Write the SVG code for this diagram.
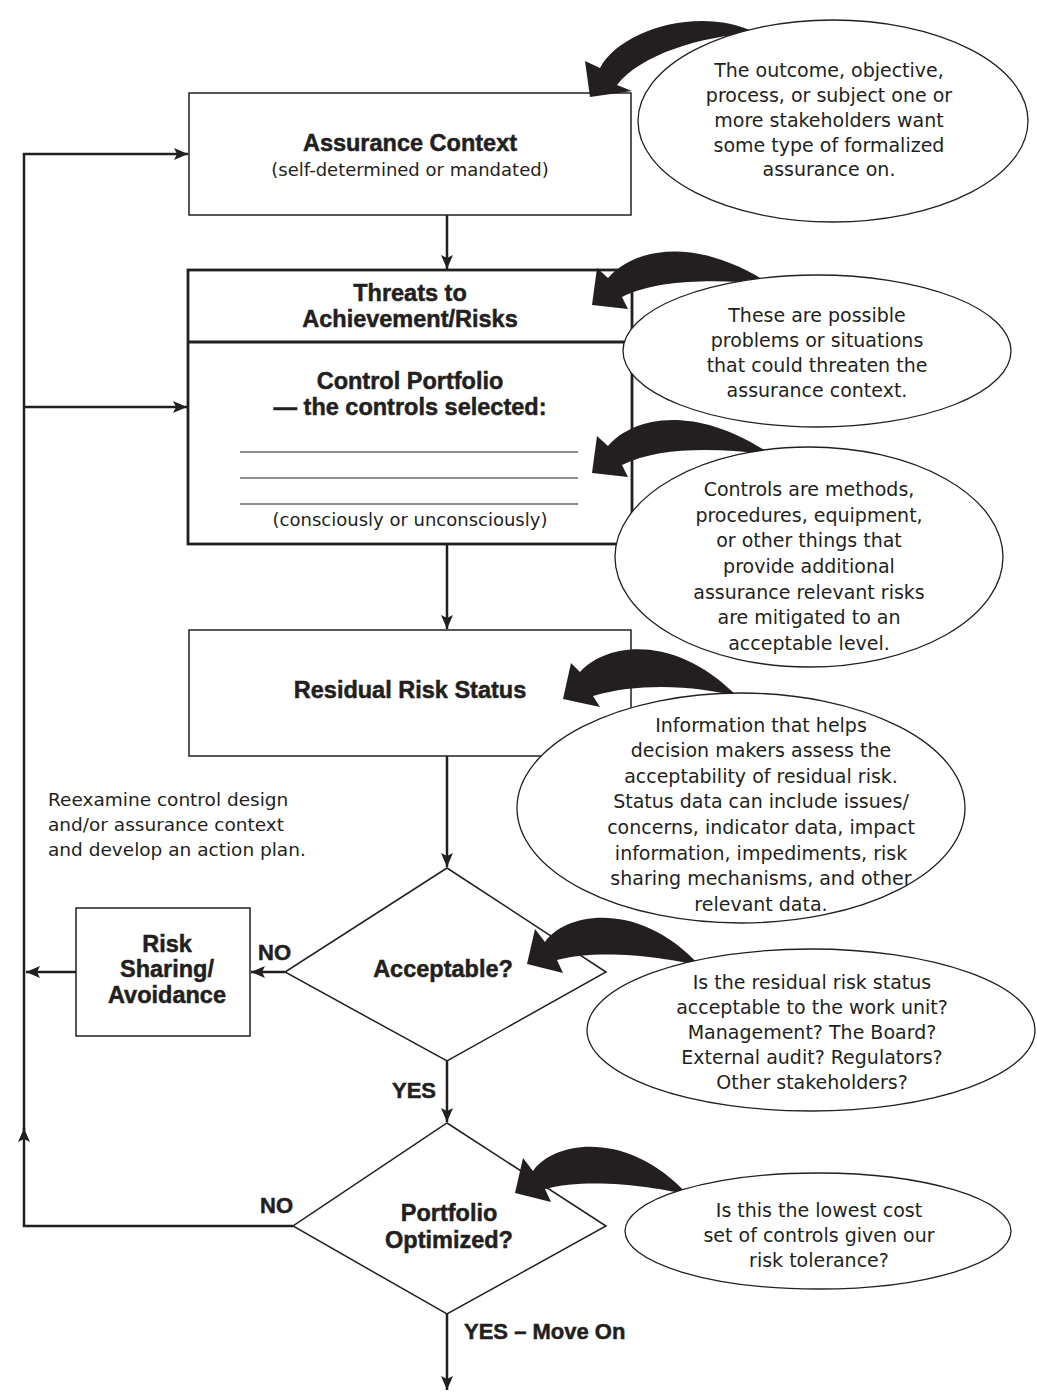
<svg xmlns="http://www.w3.org/2000/svg" width="1037" height="1395" viewBox="0 0 1037 1395">
<defs>
<style>
.t{font-family:"DejaVu Sans","Noto Sans",sans-serif;font-size:19px;fill:#231f20;text-anchor:middle}
.p{font-family:"DejaVu Sans","Noto Sans",sans-serif;font-size:18px;fill:#231f20;text-anchor:middle}
.l{font-family:"DejaVu Sans","Noto Sans",sans-serif;font-size:18.5px;fill:#231f20}
.b{font-family:"Liberation Sans",Arial,sans-serif;font-weight:bold;font-size:23.5px;fill:#231f20;stroke:#231f20;stroke-width:0.5;text-anchor:middle}
.lb{font-family:"Liberation Sans",Arial,sans-serif;font-weight:bold;font-size:22px;fill:#231f20;stroke:#231f20;stroke-width:0.5}
.box{fill:#fff;stroke:#231f20;stroke-width:1.5}
.thick{fill:#fff;stroke:#231f20;stroke-width:2.8}
.conn{fill:none;stroke:#231f20;stroke-width:2.5}
.bubble{fill:#fff;stroke:#231f20;stroke-width:1.3}
.curl{fill:#231f20}
.rule{stroke:#231f20;stroke-width:1.2}
</style>
<marker id="ah" viewBox="0 0 14 12" refX="14" refY="6" markerWidth="14" markerHeight="12" markerUnits="userSpaceOnUse" orient="auto">
<path d="M0,0 L14,6 L0,12 L3,6 Z" fill="#231f20"/>
</marker>
</defs>
<rect width="1037" height="1395" fill="#fff"/>

<g id="connectors">
<path class="conn" d="M447,215 V269" marker-end="url(#ah)"/>
<path class="conn" d="M447,544 V629" marker-end="url(#ah)"/>
<path class="conn" d="M447,756 V867" marker-end="url(#ah)"/>
<path class="conn" d="M447,1061 V1122" marker-end="url(#ah)"/>
<path class="conn" d="M447,1314 V1390" marker-end="url(#ah)"/>
<path class="conn" d="M285,972 H251" marker-end="url(#ah)"/>
<path class="conn" d="M76,972 H26" marker-end="url(#ah)"/>
<path class="conn" d="M293,1226 H24 V1128" marker-end="url(#ah)"/>
<path class="conn" d="M24,1130 V154 H188" marker-end="url(#ah)"/>
<path class="conn" d="M24,407 H187" marker-end="url(#ah)"/>
</g>

<g id="assurance-context">
<rect class="box" x="189" y="93" width="442" height="122"/>
<text class="b" x="410" y="151">Assurance Context</text>
<text class="p" x="410" y="176">(self-determined or mandated)</text>
</g>

<g id="threats-control">
<rect class="thick" x="188" y="270" width="444" height="274"/>
<line x1="188" y1="342" x2="632" y2="342" stroke="#231f20" stroke-width="2.8"/>
<text class="b" x="410" y="301">Threats to</text>
<text class="b" x="410" y="327">Achievement/Risks</text>
<text class="b" x="410" y="389">Control Portfolio</text>
<text class="b" x="410" y="415">— the controls selected:</text>
<line class="rule" x1="240" y1="452" x2="578" y2="452"/>
<line class="rule" x1="240" y1="478" x2="578" y2="478"/>
<line class="rule" x1="240" y1="504" x2="578" y2="504"/>
<text class="p" x="410" y="526">(consciously or unconsciously)</text>
</g>

<g id="residual-risk">
<rect class="box" x="189" y="630" width="442" height="126"/>
<text class="b" x="410" y="698">Residual Risk Status</text>
</g>

<g id="reexamine-note">
<text class="l" x="48" y="806">Reexamine control design</text>
<text class="l" x="48" y="831">and/or assurance context</text>
<text class="l" x="48" y="856">and develop an action plan.</text>
</g>

<g id="acceptable">
<polygon class="box" points="447,868 606,972 447,1061 285,972" stroke-width="1.3"/>
<text class="b" x="443" y="977">Acceptable?</text>
<text class="lb" x="258" y="960">NO</text>
<text class="lb" x="392" y="1098">YES</text>
</g>

<g id="risk-sharing">
<rect class="box" x="76" y="908" width="174" height="128"/>
<text class="b" x="167" y="952">Risk</text>
<text class="b" x="167" y="977">Sharing/</text>
<text class="b" x="167" y="1003">Avoidance</text>
</g>

<g id="portfolio-optimized">
<polygon class="box" points="447,1123 606,1226 447,1314 293,1226" stroke-width="1.3"/>
<text class="b" x="449" y="1221">Portfolio</text>
<text class="b" x="449" y="1248">Optimized?</text>
<text class="lb" x="260" y="1213">NO</text>
<text class="lb" x="464" y="1339">YES – Move On</text>
</g>

<g id="curved-arrows">
<path class="curl" d="M590,97 L585,61 L600,68 C620,30 700,5 756,33 C700,36 640,55 617,85 L632,91 Z"/>
<path class="curl" d="M592,305 L597,268 L608,278 C630,252 690,232 770,284 C720,280 660,278 622,297 L628,309 Z"/>
<path class="curl" d="M592,473 L597,436 L608,446 C630,420 690,400 772,455 C720,448 660,446 622,465 L628,477 Z"/>
<path class="curl" d="M563,699 L571,663 L580,672 C603,645 672,630 738,697 C700,686 640,682 593,696 L600,707 Z"/>
<path class="curl" d="M527,964 L535,929 L545,942 C566,912 640,900 700,966 C670,958 600,948 557,960 L563,973 Z"/>
<path class="curl" d="M515,1193 L523,1158 L533,1171 C554,1141 628,1129 688,1195 C658,1187 588,1177 545,1189 L551,1202 Z"/>
</g>

<g id="note-outcome">
<ellipse class="bubble" cx="833" cy="121" rx="195" ry="101"/>
<text class="t" x="829" y="77">The outcome, objective,</text>
<text class="t" x="829" y="102">process, or subject one or</text>
<text class="t" x="829" y="127">more stakeholders want</text>
<text class="t" x="829" y="152">some type of formalized</text>
<text class="t" x="829" y="176">assurance on.</text>
</g>

<g id="note-threats">
<ellipse class="bubble" cx="817" cy="351" rx="194" ry="76"/>
<text class="t" x="817" y="322">These are possible</text>
<text class="t" x="817" y="347">problems or situations</text>
<text class="t" x="817" y="372">that could threaten the</text>
<text class="t" x="817" y="397">assurance context.</text>
</g>

<g id="note-controls">
<ellipse class="bubble" cx="809" cy="557" rx="194" ry="110"/>
<text class="t" x="809" y="496">Controls are methods,</text>
<text class="t" x="809" y="522">procedures, equipment,</text>
<text class="t" x="809" y="547">or other things that</text>
<text class="t" x="809" y="573">provide additional</text>
<text class="t" x="809" y="599">assurance relevant risks</text>
<text class="t" x="809" y="624">are mitigated to an</text>
<text class="t" x="809" y="650">acceptable level.</text>
</g>

<g id="note-residual">
<ellipse class="bubble" cx="741" cy="808" rx="224" ry="115"/>
<text class="t" x="761" y="732">Information that helps</text>
<text class="t" x="761" y="757">decision makers assess the</text>
<text class="t" x="761" y="783">acceptability of residual risk.</text>
<text class="t" x="761" y="808">Status data can include issues/</text>
<text class="t" x="761" y="834">concerns, indicator data, impact</text>
<text class="t" x="761" y="860">information, impediments, risk</text>
<text class="t" x="761" y="885">sharing mechanisms, and other</text>
<text class="t" x="761" y="911">relevant data.</text>
</g>

<g id="note-acceptable">
<ellipse class="bubble" cx="811" cy="1030" rx="224" ry="81"/>
<text class="t" x="812" y="989">Is the residual risk status</text>
<text class="t" x="812" y="1014">acceptable to the work unit?</text>
<text class="t" x="812" y="1039">Management? The Board?</text>
<text class="t" x="812" y="1064">External audit? Regulators?</text>
<text class="t" x="812" y="1089">Other stakeholders?</text>
</g>

<g id="note-portfolio">
<ellipse class="bubble" cx="818" cy="1231" rx="193" ry="58"/>
<text class="t" x="819" y="1217">Is this the lowest cost</text>
<text class="t" x="819" y="1242">set of controls given our</text>
<text class="t" x="819" y="1267">risk tolerance?</text>
</g>
</svg>
